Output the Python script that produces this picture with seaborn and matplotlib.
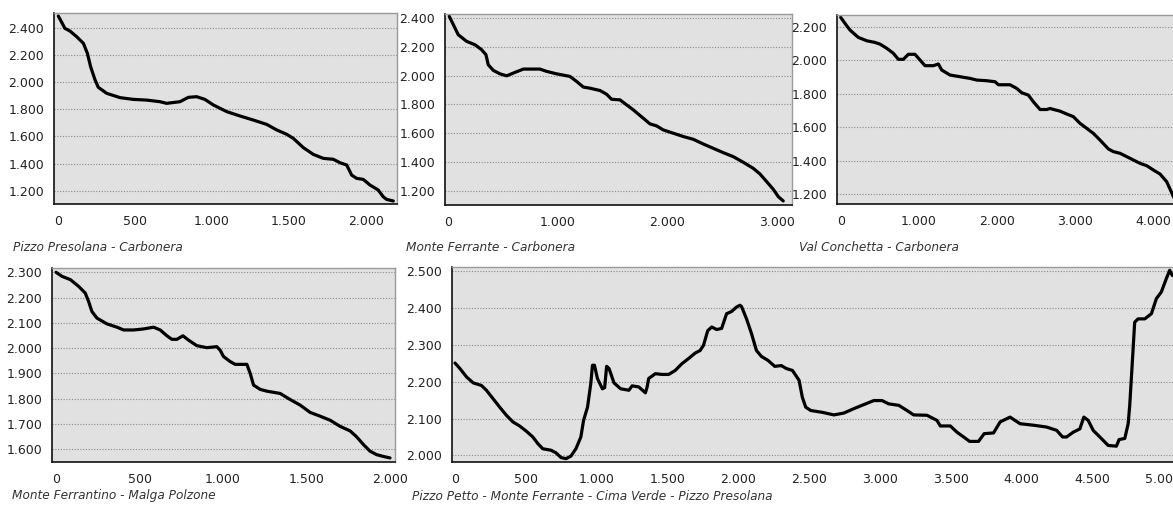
import matplotlib
matplotlib.use("Agg")
import matplotlib.pyplot as plt
from matplotlib.ticker import FuncFormatter, MultipleLocator
import seaborn as sns
import pandas as pd

# Elevation profiles: distance (m) vs altitude (m a.s.l.)
presolana_dist = [2, 45, 78, 121, 165, 191, 212, 241, 262, 316, 403, 490, 576, 663, 706, 793, 847, 901,
                  955, 1010, 1097, 1183, 1270, 1357, 1422, 1487, 1530, 1595, 1660, 1725, 1790, 1833,
                  1877, 1909, 1941, 1985, 2028, 2082, 2114, 2136, 2180]
presolana_alt = [2486, 2395, 2375, 2334, 2285, 2211, 2113, 2015, 1961, 1917, 1885, 1872, 1867, 1855, 1843,
                 1855, 1887, 1892, 1872, 1831, 1782, 1750, 1720, 1688, 1647, 1615, 1585, 1517, 1467, 1438,
                 1431, 1406, 1389, 1315, 1291, 1283, 1242, 1205, 1156, 1136, 1124]

ferrante_dist = [9, 46, 91, 167, 244, 304, 344, 365, 411, 472, 533, 609, 685, 837, 898, 989, 1111, 1172,
                 1233, 1294, 1385, 1446, 1491, 1568, 1629, 1690, 1781, 1842, 1903, 1963, 2055, 2146, 2237,
                 2329, 2420, 2511, 2603, 2694, 2785, 2846, 2907, 2968, 3014, 3059]
ferrante_alt = [2412, 2354, 2284, 2238, 2214, 2180, 2145, 2075, 2036, 2012, 1998, 2022, 2045, 2045, 2029,
                2012, 1994, 1959, 1920, 1912, 1896, 1870, 1835, 1831, 1796, 1761, 1703, 1664, 1650, 1622,
                1599, 1576, 1557, 1524, 1494, 1464, 1436, 1397, 1355, 1316, 1263, 1209, 1158, 1128]

conchetta_dist = [0, 55, 119, 226, 333, 439, 503, 589, 674, 738, 802, 866, 951, 1015, 1079, 1186, 1250,
                  1293, 1399, 1527, 1655, 1741, 1869, 1975, 2018, 2167, 2253, 2317, 2402, 2466, 2551, 2637,
                  2679, 2807, 2893, 2978, 3063, 3149, 3234, 3319, 3426, 3490, 3575, 3703, 3831, 3916, 4002,
                  4087, 4172, 4258, 4300]
conchetta_alt = [2256, 2220, 2180, 2136, 2116, 2106, 2096, 2071, 2041, 2005, 2005, 2035, 2035, 2001, 1967,
                 1967, 1977, 1941, 1911, 1901, 1891, 1881, 1877, 1871, 1853, 1853, 1831, 1805, 1791, 1751,
                 1705, 1705, 1711, 1695, 1678, 1662, 1622, 1592, 1562, 1522, 1469, 1453, 1443, 1413, 1383,
                 1369, 1343, 1319, 1273, 1184, 1150]

ferrantino_dist = [0, 36, 86, 136, 175, 195, 215, 245, 305, 365, 405, 465, 524, 584, 624, 664, 694, 724,
                   760, 793, 843, 903, 963, 983, 1003, 1043, 1073, 1143, 1163, 1183, 1223, 1263, 1342, 1402,
                   1462, 1522, 1582, 1642, 1701, 1761, 1801, 1841, 1880, 1920, 1960, 2000]
ferrantino_alt = [2300, 2284, 2271, 2244, 2218, 2185, 2145, 2119, 2096, 2083, 2072, 2072, 2076, 2083, 2072,
                  2049, 2035, 2035, 2049, 2032, 2010, 2002, 2006, 1992, 1967, 1947, 1936, 1936, 1900, 1854,
                  1837, 1830, 1821, 1797, 1775, 1746, 1731, 1715, 1691, 1673, 1649, 1619, 1593, 1579, 1572,
                  1566]

petto_dist = [0, 35, 82, 129, 187, 222, 269, 316, 363, 409, 456, 503, 550, 585, 620, 678, 713, 749, 784,
              819, 854, 889, 908, 936, 959, 971, 985, 1006, 1041, 1057, 1071, 1088, 1123, 1170, 1228, 1251,
              1298, 1345, 1357, 1368, 1415, 1462, 1509, 1556, 1602, 1649, 1696, 1731, 1755, 1785, 1813,
              1848, 1883, 1918, 1953, 1988, 2012, 2023, 2059, 2094, 2129, 2164, 2211, 2258, 2305, 2340,
              2383, 2430, 2453, 2477, 2512, 2594, 2676, 2746, 2817, 2887, 2958, 3016, 3063, 3134, 3192,
              3239, 3333, 3404, 3427, 3498, 3545, 3592, 3634, 3697, 3737, 3803, 3850, 3920, 3955, 3991,
              4085, 4178, 4249, 4291, 4319, 4366, 4413, 4441, 4472, 4507, 4554, 4613, 4671, 4690, 4730,
              4754, 4765, 4784, 4800, 4824, 4871, 4918, 4953, 4988, 5023, 5047, 5066]
petto_alt = [2251, 2236, 2213, 2197, 2190, 2177, 2154, 2131, 2109, 2091, 2080, 2066, 2050, 2032, 2018,
             2014, 2007, 1994, 1991, 1998, 2018, 2050, 2095, 2131, 2195, 2245, 2245, 2209, 2181, 2184,
             2242, 2236, 2197, 2181, 2177, 2189, 2186, 2170, 2186, 2209, 2222, 2220, 2220, 2231, 2249,
             2263, 2278, 2285, 2299, 2339, 2349, 2342, 2345, 2385, 2391, 2403, 2408, 2405, 2371, 2331,
             2285, 2269, 2258, 2242, 2244, 2236, 2231, 2204, 2158, 2131, 2122, 2117, 2110, 2115, 2127,
             2138, 2149, 2149, 2140, 2136, 2122, 2110, 2109, 2095, 2080, 2080, 2063, 2050, 2038, 2038,
             2059, 2061, 2091, 2104, 2095, 2086, 2082, 2077, 2068, 2050, 2050, 2063, 2072, 2104, 2095,
             2068, 2050, 2027, 2025, 2043, 2046, 2086, 2136, 2258, 2362, 2371, 2371, 2385, 2426, 2444,
             2480, 2503, 2489]

titles = ["Pizzo Presolana - Carbonera",
          "Monte Ferrante - Carbonera",
          "Val Conchetta - Carbonera",
          "Monte Ferrantino - Malga Polzone",
          "Pizzo Petto - Monte Ferrante - Cima Verde - Pizzo Presolana"]

sns.set_style("white")
plt.rcParams["font.family"] = ["DejaVu Sans"]

W, H = 1173, 511
fig = plt.figure(figsize=(W / 100, H / 100), dpi=100)


def px_axes(left, top, right, bottom):
    return fig.add_axes([left / W, 1 - bottom / H, (right - left) / W, (bottom - top) / H])


def it_fmt(v, pos):
    return f"{int(round(v)):,}".replace(",", ".")


panels = [
    # (pixel box, x data, y data, xlim, ylim, x step, y step, title pos)
    ((54, 13, 397, 204), presolana_dist, presolana_alt, (-26, 2204), (1102, 2508), 500, 200, (13, 247)),
    ((445, 14, 792, 205), ferrante_dist, ferrante_alt, (-30, 3139), (1100, 2428), 1000, 200, (406, 247)),
    ((837, 15, 1180, 204), conchetta_dist, conchetta_alt, (-47, 4342), (1140, 2270), 1000, 200, (799, 247)),
    ((52, 268, 395, 462), ferrantino_dist, ferrantino_alt, (-24, 2030), (1550, 2317), 500, 100, (12, 496)),
    ((452, 267, 1180, 462), petto_dist, petto_alt, (-21, 5120), (1982, 2512), 500, 100, (412, 496)),
]

for (box, xs, ys, xl, yl, xstep, ystep, tpos), title in zip(panels, titles):
    ax = px_axes(*box)
    ax.set_facecolor("#e1e1e1")
    df = pd.DataFrame({"dist": xs, "alt": ys})
    sns.lineplot(data=df, x="dist", y="alt", ax=ax, color="black", linewidth=2.3,
                 sort=False, estimator=None)
    ax.set_xlim(*xl)
    ax.set_ylim(*yl)
    ax.xaxis.set_major_locator(MultipleLocator(xstep))
    ax.yaxis.set_major_locator(MultipleLocator(ystep))
    ax.xaxis.set_major_formatter(FuncFormatter(it_fmt))
    ax.yaxis.set_major_formatter(FuncFormatter(it_fmt))
    ax.set_xlabel("")
    ax.set_ylabel("")
    ax.grid(False)
    ax.yaxis.grid(True, linestyle=(0, (1, 1.5)), color="#8a8a8a", linewidth=0.8)
    ax.set_axisbelow(True)
    for side in ("left", "bottom"):
        ax.spines[side].set_color("#111111")
        ax.spines[side].set_linewidth(1.2)
    for side in ("top", "right"):
        ax.spines[side].set_color("#9a9a9a")
        ax.spines[side].set_linewidth(1.0)
    ax.tick_params(axis="both", which="major", direction="out", length=5, width=1,
                   color="#111111", labelsize=9, labelcolor="#222222")
    ax.tick_params(axis="x", pad=3)
    ax.tick_params(axis="y", pad=2)
    fig.text(tpos[0] / W, 1 - tpos[1] / H, title, fontsize=8.7, fontstyle="italic",
             color="#333333", ha="left", va="center")

fig.savefig("out.png", dpi=100)
